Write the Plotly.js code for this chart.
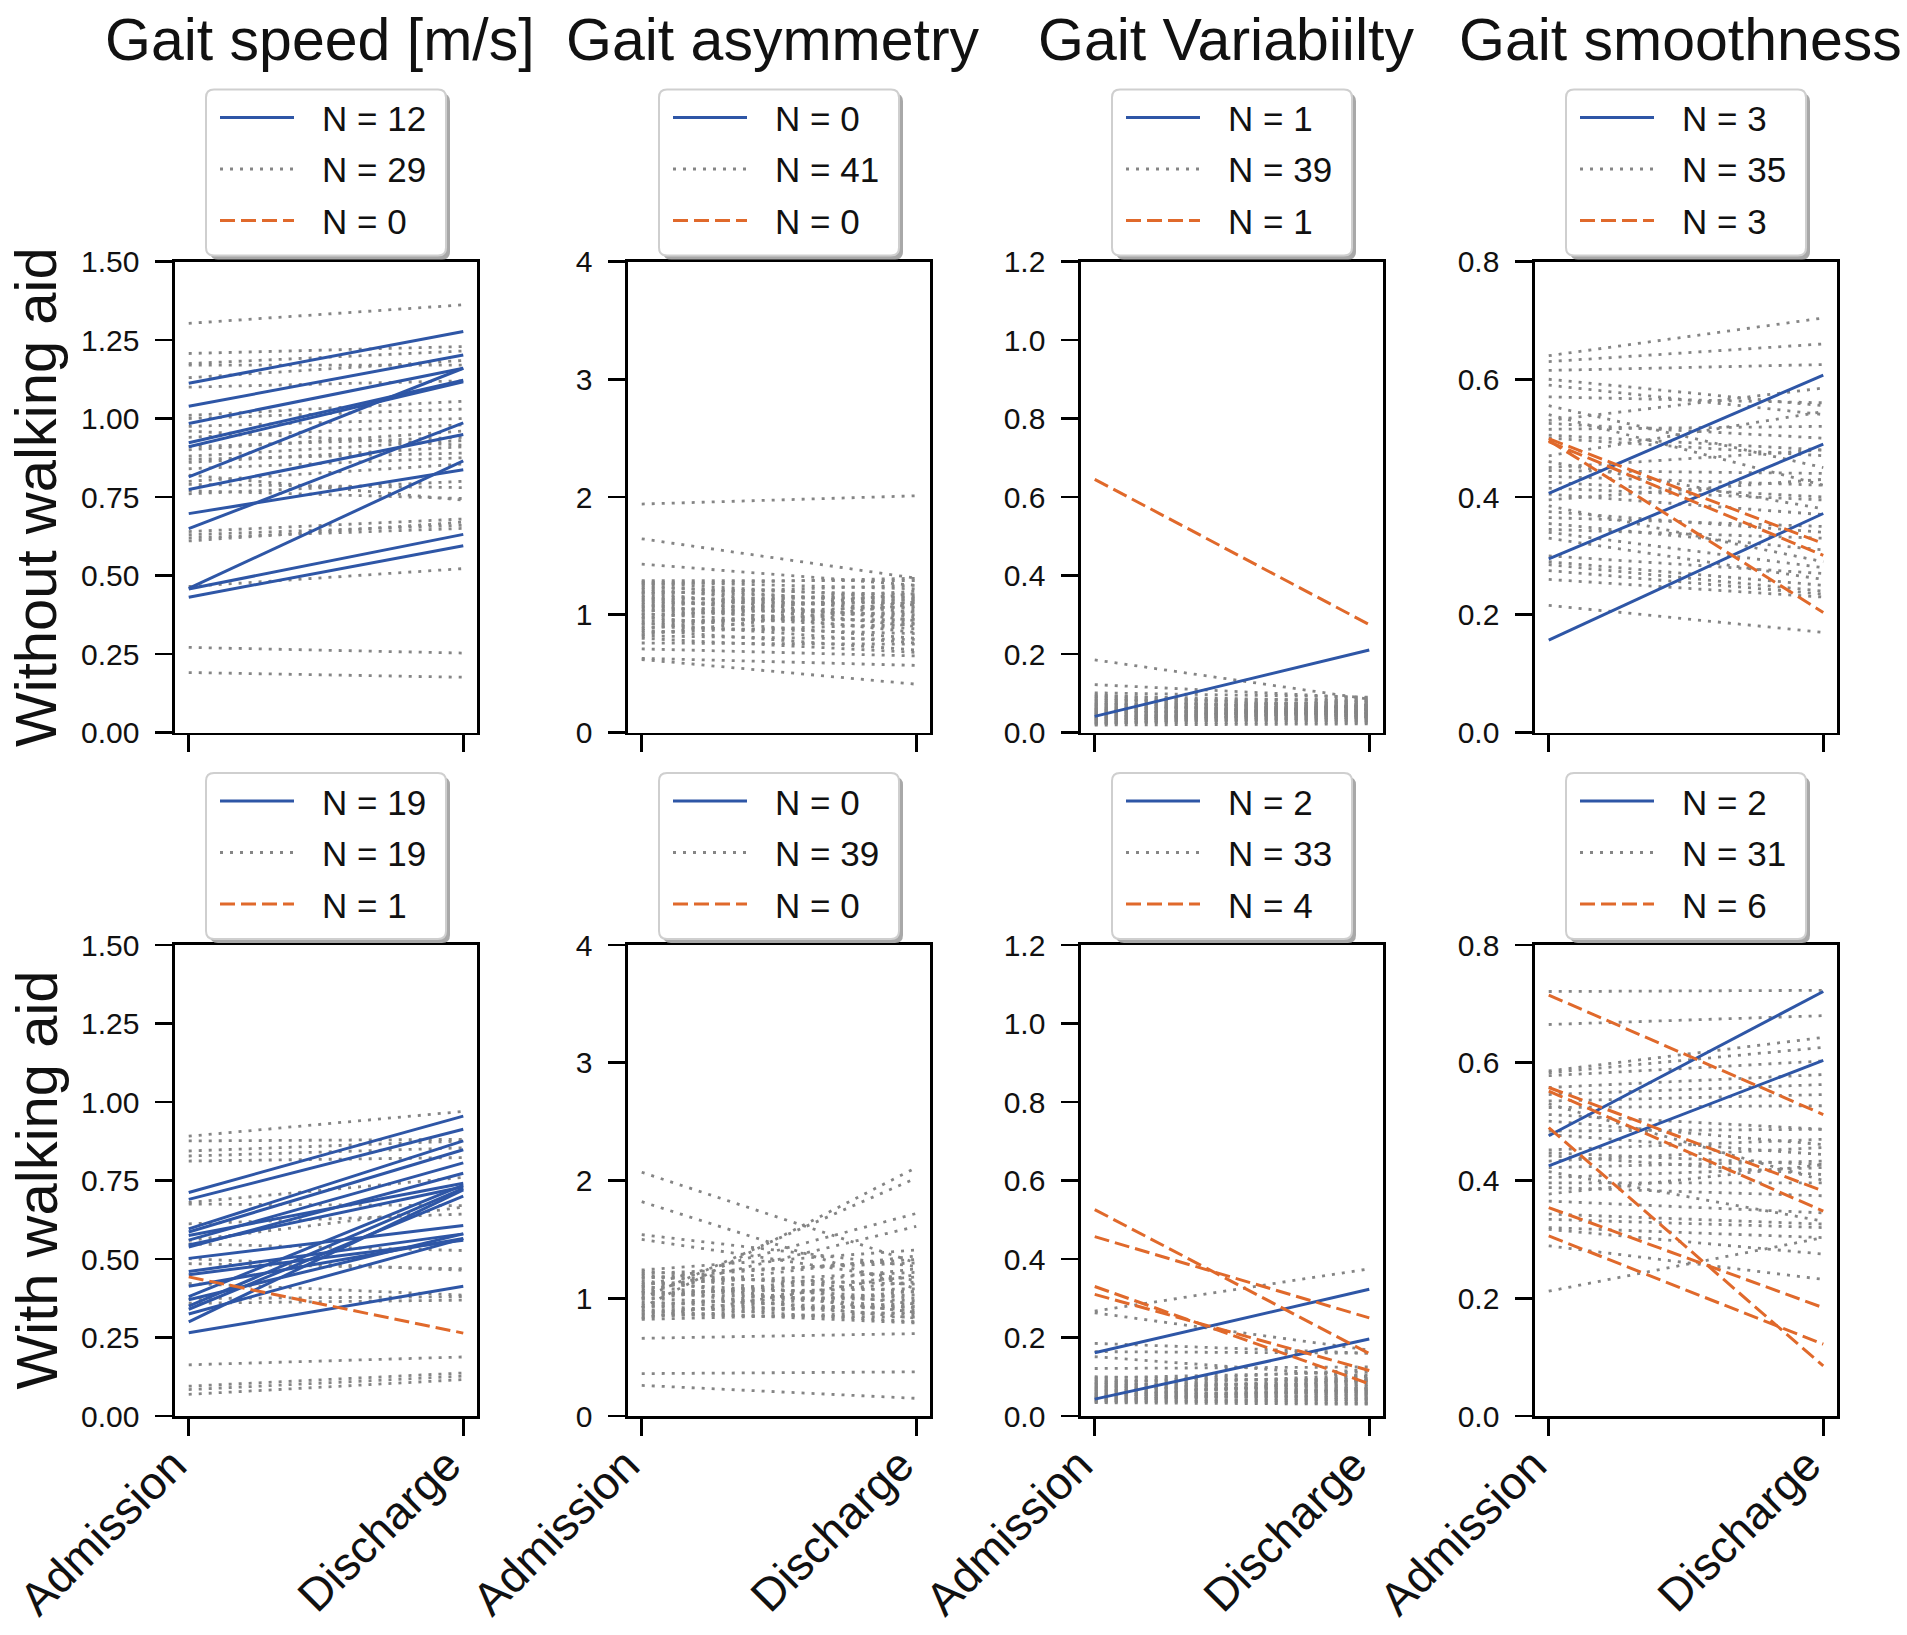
<!DOCTYPE html>
<html>
<head>
<meta charset="utf-8">
<script src="https://cdn.plot.ly/plotly-3.0.1.min.js"></script>
<style>
  html, body { margin: 0; padding: 0; background: #ffffff; }
  #chart { width: 1907px; height: 1635px; }
</style>
</head>
<body>
<div id="chart"></div>
<script>
// ---------------- DATA ----------------
const columnTitles = ["Gait speed [m/s]", "Gait asymmetry", "Gait Variabiilty", "Gait smoothness"];
const rowTitles = ["Without walking aid", "With walking aid"];
const timepoints = ["Admission", "Discharge"];
const groupNames = ["improved", "unchanged", "worsened"];

// Row 1 : without walking aid
const speedNoAidBlueAdm = [1.112, 1.039, 0.984, 0.923, 0.910, 0.814, 0.774, 0.697, 0.649, 0.459, 0.457, 0.431];
const speedNoAidBlueDis = [1.277, 1.202, 1.160, 1.122, 1.117, 1.160, 0.949, 0.837, 0.986, 0.865, 0.631, 0.595];
const speedNoAidGrayAdm = [1.303, 0.271, 0.191, 1.207, 1.175, 1.170, 1.130, 1.100, 1.010, 1.000, 0.975, 0.910, 0.900, 0.870, 0.860, 0.840, 0.800, 0.790, 0.770, 0.760, 0.640, 0.630, 0.620, 0.610, 0.465, 0.960, 0.940, 0.880, 0.820];
const speedNoAidGrayDis = [1.362, 0.253, 0.176, 1.229, 1.215, 1.170, 1.185, 1.120, 1.055, 1.030, 1.000, 0.940, 0.960, 0.890, 0.910, 0.875, 0.855, 0.780, 0.745, 0.800, 0.680, 0.660, 0.650, 0.670, 0.522, 0.915, 0.980, 0.930, 0.740];
const speedNoAidOrangeAdm = [];
const speedNoAidOrangeDis = [];

const asymNoAidBlueAdm = [];
const asymNoAidBlueDis = [];
const asymNoAidGrayAdm = [1.94, 1.645, 1.43, 0.62, 0.63, 0.71, 0.76, 1.29, 1.28, 1.27, 1.26, 1.25, 1.23, 1.22, 1.20, 1.19, 1.18, 1.16, 1.15, 1.13, 1.12, 1.10, 1.09, 1.07, 1.06, 1.04, 1.03, 1.01, 1.00, 0.98, 0.97, 0.95, 0.93, 0.92, 0.90, 0.88, 0.87, 0.85, 0.83, 0.82, 0.80];
const asymNoAidGrayDis = [2.01, 1.31, 1.25, 0.41, 0.57, 0.65, 0.75, 1.29, 1.22, 1.14, 1.31, 1.08, 1.17, 1.02, 1.12, 0.95, 1.25, 1.05, 0.90, 1.15, 0.98, 1.10, 0.85, 1.20, 1.00, 0.93, 1.13, 0.88, 1.07, 0.80, 1.18, 0.96, 0.76, 1.03, 0.84, 1.11, 0.70, 0.92, 1.09, 0.79, 0.68];
const asymNoAidOrangeAdm = [];
const asymNoAidOrangeDis = [];

const varNoAidBlueAdm = [0.041];
const varNoAidBlueDis = [0.210];
const varNoAidGrayAdm = [0.185, 0.122, 0.101, 0.096, 0.093, 0.090, 0.087, 0.083, 0.081, 0.078, 0.074, 0.072, 0.071, 0.067, 0.065, 0.063, 0.060, 0.059, 0.057, 0.055, 0.053, 0.051, 0.049, 0.047, 0.046, 0.044, 0.041, 0.040, 0.038, 0.036, 0.035, 0.033, 0.031, 0.029, 0.027, 0.025, 0.023, 0.021, 0.019];
const varNoAidGrayDis = [0.085, 0.088, 0.090, 0.062, 0.080, 0.048, 0.071, 0.058, 0.085, 0.040, 0.066, 0.075, 0.052, 0.044, 0.078, 0.060, 0.036, 0.069, 0.050, 0.082, 0.043, 0.057, 0.064, 0.031, 0.073, 0.047, 0.055, 0.038, 0.068, 0.029, 0.061, 0.045, 0.052, 0.034, 0.070, 0.026, 0.041, 0.058, 0.022];
const varNoAidOrangeAdm = [0.645];
const varNoAidOrangeDis = [0.275];

const smoothNoAidBlueAdm = [0.406, 0.295, 0.157];
const smoothNoAidBlueDis = [0.607, 0.490, 0.372];
const smoothNoAidGrayAdm = [0.640, 0.630, 0.615, 0.600, 0.590, 0.570, 0.530, 0.525, 0.515, 0.505, 0.500, 0.450, 0.445, 0.435, 0.425, 0.415, 0.405, 0.395, 0.375, 0.365, 0.355, 0.345, 0.340, 0.330, 0.300, 0.290, 0.285, 0.275, 0.260, 0.216, 0.470, 0.460, 0.540, 0.555, 0.385];
const smoothNoAidGrayDis = [0.704, 0.660, 0.625, 0.555, 0.540, 0.560, 0.585, 0.500, 0.520, 0.480, 0.470, 0.480, 0.440, 0.420, 0.400, 0.395, 0.370, 0.430, 0.340, 0.350, 0.310, 0.330, 0.280, 0.260, 0.270, 0.250, 0.240, 0.235, 0.230, 0.170, 0.545, 0.380, 0.420, 0.450, 0.290];
const smoothNoAidOrangeAdm = [0.499, 0.494, 0.496];
const smoothNoAidOrangeDis = [0.321, 0.301, 0.204];

// Row 2 : with walking aid
const speedAidBlueAdm = [0.712, 0.690, 0.596, 0.586, 0.575, 0.560, 0.538, 0.545, 0.502, 0.460, 0.413, 0.380, 0.350, 0.340, 0.325, 0.300, 0.265, 0.450, 0.370];
const speedAidBlueDis = [0.955, 0.913, 0.876, 0.848, 0.741, 0.806, 0.773, 0.730, 0.607, 0.580, 0.565, 0.735, 0.725, 0.700, 0.565, 0.720, 0.413, 0.560, 0.580];
const speedAidGrayAdm = [0.891, 0.876, 0.844, 0.828, 0.812, 0.680, 0.675, 0.548, 0.501, 0.485, 0.422, 0.374, 0.359, 0.163, 0.095, 0.084, 0.069, 0.612, 0.559];
const speedAidGrayDis = [0.970, 0.881, 0.876, 0.854, 0.823, 0.760, 0.670, 0.527, 0.464, 0.469, 0.385, 0.380, 0.369, 0.188, 0.137, 0.127, 0.116, 0.643, 0.665];
const speedAidOrangeAdm = [0.443];
const speedAidOrangeDis = [0.264];

const asymAidBlueAdm = [];
const asymAidBlueDis = [];
const asymAidGrayAdm = [2.07, 1.82, 1.54, 0.92, 1.00, 1.10, 1.05, 0.66, 0.36, 0.26, 1.50, 1.24, 1.23, 1.21, 1.20, 1.18, 1.17, 1.15, 1.13, 1.12, 1.10, 1.08, 1.07, 1.05, 1.04, 1.02, 1.00, 0.99, 0.97, 0.95, 0.94, 0.92, 0.90, 0.89, 0.87, 0.86, 0.84, 0.83, 0.82];
const asymAidGrayDis = [1.30, 1.08, 1.27, 2.11, 2.02, 1.72, 1.61, 0.70, 0.375, 0.15, 1.15, 1.41, 1.05, 1.30, 0.95, 1.12, 1.33, 0.88, 1.00, 1.22, 0.92, 1.36, 0.83, 1.08, 0.98, 1.18, 0.90, 1.25, 0.86, 1.03, 0.80, 1.14, 0.93, 0.79, 1.06, 0.84, 0.96, 1.20, 0.88];
const asymAidOrangeAdm = [];
const asymAidOrangeDis = [];

const varAidBlueAdm = [0.161, 0.043];
const varAidBlueDis = [0.323, 0.196];
const varAidGrayAdm = [0.267, 0.263, 0.185, 0.164, 0.151, 0.121, 0.100, 0.097, 0.093, 0.090, 0.086, 0.083, 0.081, 0.078, 0.075, 0.072, 0.070, 0.067, 0.064, 0.062, 0.059, 0.057, 0.055, 0.052, 0.050, 0.048, 0.046, 0.044, 0.042, 0.040, 0.038, 0.036, 0.034];
const varAidGrayDis = [0.375, 0.168, 0.160, 0.160, 0.100, 0.125, 0.088, 0.112, 0.070, 0.095, 0.060, 0.118, 0.080, 0.052, 0.105, 0.066, 0.090, 0.045, 0.076, 0.100, 0.058, 0.040, 0.085, 0.063, 0.048, 0.093, 0.036, 0.072, 0.055, 0.032, 0.068, 0.043, 0.030];
const varAidOrangeAdm = [0.526, 0.457, 0.330, 0.310];
const varAidOrangeDis = [0.159, 0.250, 0.082, 0.116];

const smoothAidBlueAdm = [0.476, 0.425];
const smoothAidBlueDis = [0.721, 0.604];
const smoothAidGrayAdm = [0.721, 0.665, 0.586, 0.583, 0.578, 0.558, 0.546, 0.535, 0.524, 0.512, 0.501, 0.478, 0.447, 0.442, 0.433, 0.422, 0.405, 0.396, 0.388, 0.377, 0.343, 0.334, 0.320, 0.317, 0.289, 0.212, 0.484, 0.530, 0.415, 0.452, 0.365];
const smoothAidGrayDis = [0.723, 0.680, 0.643, 0.626, 0.603, 0.580, 0.563, 0.546, 0.527, 0.487, 0.461, 0.444, 0.427, 0.410, 0.456, 0.433, 0.422, 0.396, 0.374, 0.427, 0.326, 0.320, 0.303, 0.275, 0.232, 0.303, 0.487, 0.400, 0.331, 0.470, 0.345];
const smoothAidOrangeAdm = [0.715, 0.558, 0.552, 0.490, 0.354, 0.306];
const smoothAidOrangeDis = [0.512, 0.382, 0.348, 0.085, 0.184, 0.122];

// y axis settings per column
const yRanges = [[0, 1.5], [0, 4], [0, 1.2], [0, 0.8]];
const yDticks = [0.25, 1, 0.2, 0.2];
const yFormats = [".2f", "d", ".1f", ".1f"];

// ---------------- STYLE / LAYOUT ----------------
const W = 1907, H = 1635;
const FONT = "Liberation Sans, Arial, Helvetica, sans-serif";
const colLeft = [175, 628, 1081, 1535];
const plotW = 302;
const rowTop = [261.5, 945];
const plotH = 471;

const styles = [
  { color: "#2e56a6", width: 3, dash: "solid" },
  { color: "#858585", width: 2.8, dash: "3px,7px" },
  { color: "#e0692b", width: 3, dash: "15px,6px" }
];

const panels = [
  [[speedNoAidBlueAdm, speedNoAidBlueDis], [speedNoAidGrayAdm, speedNoAidGrayDis], [speedNoAidOrangeAdm, speedNoAidOrangeDis]],
  [[asymNoAidBlueAdm, asymNoAidBlueDis], [asymNoAidGrayAdm, asymNoAidGrayDis], [asymNoAidOrangeAdm, asymNoAidOrangeDis]],
  [[varNoAidBlueAdm, varNoAidBlueDis], [varNoAidGrayAdm, varNoAidGrayDis], [varNoAidOrangeAdm, varNoAidOrangeDis]],
  [[smoothNoAidBlueAdm, smoothNoAidBlueDis], [smoothNoAidGrayAdm, smoothNoAidGrayDis], [smoothNoAidOrangeAdm, smoothNoAidOrangeDis]],
  [[speedAidBlueAdm, speedAidBlueDis], [speedAidGrayAdm, speedAidGrayDis], [speedAidOrangeAdm, speedAidOrangeDis]],
  [[asymAidBlueAdm, asymAidBlueDis], [asymAidGrayAdm, asymAidGrayDis], [asymAidOrangeAdm, asymAidOrangeDis]],
  [[varAidBlueAdm, varAidBlueDis], [varAidGrayAdm, varAidGrayDis], [varAidOrangeAdm, varAidOrangeDis]],
  [[smoothAidBlueAdm, smoothAidBlueDis], [smoothAidGrayAdm, smoothAidGrayDis], [smoothAidOrangeAdm, smoothAidOrangeDis]]
];

const X = px => px / W;
const Y = py => 1 - py / H;

const traces = [];
const layout = {
  width: W, height: H,
  margin: { l: 0, r: 0, t: 0, b: 0, pad: 0 },
  paper_bgcolor: "#ffffff",
  plot_bgcolor: "#ffffff",
  showlegend: false,
  font: { family: FONT, color: "#111111" },
  shapes: [],
  annotations: []
};

const drawOrder = [1, 0, 2]; // gray first, then blue, then orange

panels.forEach((groups, i) => {
  const r = Math.floor(i / 4), c = i % 4;
  const n = i + 1;
  const xa = "x" + (n === 1 ? "" : n), ya = "y" + (n === 1 ? "" : n);
  const xKey = "xaxis" + (n === 1 ? "" : n), yKey = "yaxis" + (n === 1 ? "" : n);

  drawOrder.forEach(g => {
    const adm = groups[g][0], dis = groups[g][1];
    const xs = [], ys = [];
    adm.forEach((v, k) => { xs.push(0, 1, null); ys.push(v, dis[k], null); });
    if (!xs.length) { xs.push(null); ys.push(null); }
    traces.push({
      type: "scatter", mode: "lines", x: xs, y: ys,
      xaxis: xa, yaxis: ya, name: groupNames[g],
      line: { color: styles[g].color, width: styles[g].width, dash: styles[g].dash },
      hoverinfo: "skip", connectgaps: false
    });
  });

  const x0 = colLeft[c], y0 = rowTop[r];
  layout[xKey] = {
    domain: [X(x0), X(x0 + plotW)],
    anchor: ya,
    range: [-0.05, 1.05],
    tickvals: [0, 1], ticktext: timepoints,
    showticklabels: r === 1,
    tickangle: -45,
    tickfont: { size: 46, family: FONT, color: "#111111" },
    ticklabelstandoff: -16,
    ticklabelshift: -16,
    ticks: "outside", ticklen: 17, tickwidth: 2.6, tickcolor: "#000",
    showline: true, mirror: true, linewidth: 2.6, linecolor: "#000",
    showgrid: false, zeroline: false, fixedrange: true
  };
  layout[yKey] = {
    domain: [Y(y0 + plotH), Y(y0)],
    anchor: xa,
    range: yRanges[c],
    tick0: 0, dtick: yDticks[c], tickformat: yFormats[c],
    tickfont: { size: 30, family: FONT, color: "#111111" },
    ticks: "outside", ticklen: 17, tickwidth: 2.6, tickcolor: "#000",
    ticklabelstandoff: 10,
    showline: true, mirror: true, linewidth: 2.6, linecolor: "#000",
    showgrid: false, zeroline: false, fixedrange: true
  };

  // legend box (drawn like a matplotlib legend with shadow)
  const cx = x0 + plotW / 2;
  const bw = 240, bh = 166;
  const bl = cx - bw / 2, bt = y0 - 172;
  const rr = (a, b, c2, d, rad) =>
    `M ${X(a + rad)},${Y(b)} L ${X(c2 - rad)},${Y(b)} Q ${X(c2)},${Y(b)} ${X(c2)},${Y(b + rad)} ` +
    `L ${X(c2)},${Y(d - rad)} Q ${X(c2)},${Y(d)} ${X(c2 - rad)},${Y(d)} L ${X(a + rad)},${Y(d)} ` +
    `Q ${X(a)},${Y(d)} ${X(a)},${Y(d - rad)} L ${X(a)},${Y(b + rad)} Q ${X(a)},${Y(b)} ${X(a + rad)},${Y(b)} Z`;
  layout.shapes.push({
    type: "path", xref: "paper", yref: "paper", layer: "above",
    path: rr(bl + 4, bt + 4, bl + bw + 4, bt + bh + 4, 8),
    fillcolor: "#a8a8a8", line: { width: 0 }
  });
  layout.shapes.push({
    type: "path", xref: "paper", yref: "paper", layer: "above",
    path: rr(bl, bt, bl + bw, bt + bh, 8),
    fillcolor: "#ffffff", line: { color: "#cfcfcf", width: 2 }
  });
  [0, 1, 2].forEach(g => {
    const ly = bt + 28 + g * 51.5;
    layout.shapes.push({
      type: "line", xref: "paper", yref: "paper", layer: "above",
      x0: X(bl + 14), x1: X(bl + 88), y0: Y(ly), y1: Y(ly),
      line: { color: styles[g].color, width: styles[g].width, dash: styles[g].dash }
    });
    layout.annotations.push({
      xref: "paper", yref: "paper", x: X(bl + 114), y: Y(ly + 1),
      xanchor: "left", yanchor: "middle", showarrow: false,
      text: "N = " + groups[g][0].length,
      font: { size: 35, family: FONT, color: "#111111" }
    });
  });

  if (r === 0) {
    layout.annotations.push({
      xref: "paper", yref: "paper", x: X(cx - 6), y: Y(40),
      xanchor: "center", yanchor: "middle", showarrow: false,
      text: columnTitles[c],
      font: { size: 59, family: FONT, color: "#111111" }
    });
  }
});

rowTitles.forEach((t, r) => {
  layout.annotations.push({
    xref: "paper", yref: "paper", x: X(36), y: Y(rowTop[r] + plotH / 2),
    xanchor: "center", yanchor: "middle", showarrow: false, textangle: -90,
    text: t, font: { size: 58, family: FONT, color: "#111111" }
  });
});

Plotly.newPlot("chart", traces, layout, { displayModeBar: false, staticPlot: true });
</script>
</body>
</html>
